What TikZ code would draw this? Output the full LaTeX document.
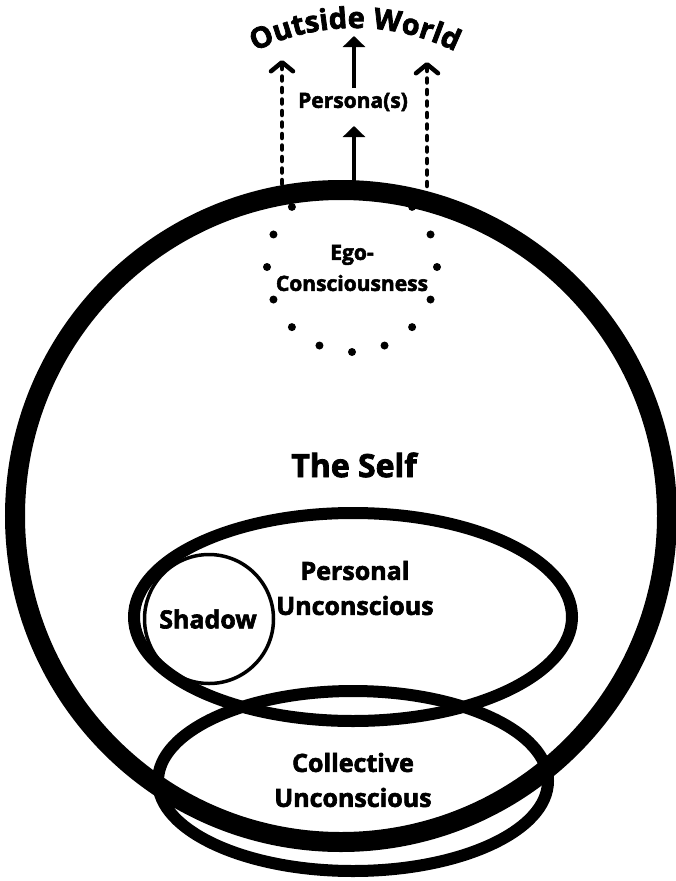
\documentclass[tikz,border=0pt]{standalone}
\usepackage{fontspec}
\setmainfont{Open Sans}[BoldFeatures={FakeBold=2.5}]
\usetikzlibrary{arrows.meta,decorations.text}
\tikzset{
  txt/.style={font=\bfseries\fontsize{#1}{#1}\selectfont, align=center, inner sep=0pt},
  txtb/.style={font=\bfseries\fontsize{25}{35}\selectfont, align=center, inner sep=0pt},
  egotxt/.style={font=\bfseries\fontsize{21}{31}\selectfont, align=center, inner sep=0pt},
  bigring/.style={line width=20},
  ring/.style={line width=12},
  thinring/.style={line width=3.5},
  solidarr/.style={line width=4.5, -{Triangle[width=22pt,length=11pt]}},
  dasharr/.style={line width=4.5, line cap=round, dash pattern=on 4pt off 7.5pt,
                  -{Straight Barb[width=22pt,length=9pt,round]}},
  egodot/.style={fill=black}
}
\begin{document}
\begin{tikzpicture}[x=1pt,y=-1pt]
\useasboundingbox (0,0) rectangle (675,881);
% main shapes
\draw[bigring] (341,516) circle [radius=326];
\draw[ring] (353,617) ellipse [x radius=219, y radius=104];
\draw[thinring] (209,619) circle [radius=64.5];
\draw[ring] (353,781) ellipse [x radius=195, y radius=90];
% ego dotted circle
\foreach \t in {-45,-22.5,...,225} \fill[egodot] (352,267) ++(\t:85) circle [radius=4];
% labels
\node[egotxt] (ego) at (352,268) {Ego-\\Consciousness};
\node[txt=21] (persona) at (353,102) {Persona(s)};
\node[txt=32] (self) at (354,465) {The Self};
\node[txtb] (personal) at (355,588) {Personal\\Unconscious};
\node[txtb] (shadow) at (208,619) {Shadow};
\node[txtb] (collective) at (353,780) {Collective\\Unconscious};
% outside world curved text
\path[decorate, decoration={text along path, text align=center,
  text={|\bfseries\fontsize{29}{29}\selectfont|Outside World}}]
  (355,253) ++(220:225) arc [start angle=220, end angle=320, radius=225];
% arrow coordinates
\coordinate (selftop) at (354,181);
\coordinate (perslow) at (354,126);
\coordinate (pershigh) at (354,88);
\coordinate (worldlow) at (354,36);
\coordinate (dlb) at (282,184);
\coordinate (dlt) at (282,60);
\coordinate (drb) at (427,186);
\coordinate (drt) at (427,62);
\draw[solidarr] (selftop) -- (perslow);
\draw[solidarr] (pershigh) -- (worldlow);
\draw[dasharr] (dlb) -- (dlt);
\draw[dasharr] (drb) -- (drt);
\end{tikzpicture}
\end{document}
